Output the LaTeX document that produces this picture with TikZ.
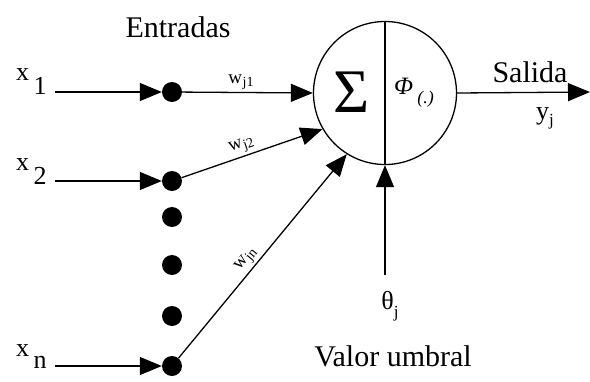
\documentclass[tikz,border=0pt]{standalone}
\usepackage{fontspec}
\setmainfont{Liberation Serif}
\newfontfamily\tms{Liberation Serif}
\usetikzlibrary{arrows.meta}
\begin{document}
\begin{tikzpicture}[x=1pt,y=-1pt,
  every node/.style={font=\tms},
  wire/.style={line width=1.3pt},
  tipped/.style={-{Triangle[length=22pt,width=18pt]}},
  dot/.style={circle,fill=black,inner sep=0pt,minimum size=20pt},
  lbl/.style={inner sep=0pt,font=\tms\fontsize{30}{32}\selectfont},
  xlbl/.style={inner sep=0pt,font=\tms\fontsize{26}{28}\selectfont},
  wlbl/.style={inner sep=2pt,font=\tms\fontsize{19}{20}\selectfont}]
\useasboundingbox (0,0) rectangle (590,381);
\node[lbl] (ent) at (178,27) {Entradas};
% input dots
\node[dot] (d1) at (172,92) {};
\node[dot] (d2) at (172,181) {};
\node[dot] (e1) at (172,217) {};
\node[dot] (e2) at (172,265) {};
\node[dot] (e3) at (172,316) {};
\node[dot] (dn) at (172,366) {};
% input labels
\node[xlbl,anchor=south west] (x1) at (16,95) {x\raisebox{-14pt}{\,1}};
\node[xlbl,anchor=south west] (x2) at (16,185) {x\raisebox{-14pt}{\,2}};
\node[xlbl,anchor=south west] (xn) at (16,369) {x\raisebox{-12pt}{\,n}};
\coordinate (s1) at (55,92);
\coordinate (s2) at (55,181);
\coordinate (sn) at (55,366);
\draw[wire,tipped] (s1) -- (d1.west);
\draw[wire,tipped] (s2) -- (d2.west);
\draw[wire,tipped] (sn) -- (dn.west);
% neuron
\node[draw,circle,line width=1.3pt,minimum size=143pt,inner sep=0pt] (neu) at (385,93) {};
\draw[line width=2pt] (neu.north) -- (neu.south);
\node[inner sep=0pt,font=\tms\fontsize{62}{62}\selectfont] (sig) at (352,92) {Σ};
\node[inner sep=0pt,font=\tms\fontsize{25}{25}\selectfont] (phi) at (414,93) {\textit{Φ}\raisebox{-9pt}{\,\fontsize{18}{18}\selectfont\textit{(.)}}};
% weighted connections
\draw[wire,tipped] (d1) -- (neu.west) node[wlbl,pos=0.45,above] {w\raisebox{-3pt}{\kern0.5pt\fontsize{14}{14}\selectfont j1}};
\draw[wire,tipped] (d2) -- (neu.210) node[wlbl,pos=0.45,above,sloped] {w\raisebox{-3pt}{\kern0.5pt\fontsize{14}{14}\selectfont j2}};
\draw[wire,tipped] (dn) -- (neu.238) node[wlbl,pos=0.45,above,sloped] {w\raisebox{-3pt}{\kern0.5pt\fontsize{14}{14}\selectfont jn}};
% output
\coordinate (out) at (590,92);
\draw[wire,tipped] (neu.east) -- (out);
\node[lbl] (sal) at (530,72) {Salida};
\node[xlbl] (yj) at (545,118) {y\raisebox{-6pt}{\fontsize{17}{17}\selectfont j}};
% threshold
\coordinate (th) at (385,275);
\draw[wire,tipped] (th) -- (neu.south);
\node[xlbl] (theta) at (390,306) {θ\raisebox{-8pt}{\fontsize{17}{17}\selectfont j}};
\node[lbl] (umb) at (393,356) {Valor umbral};
\end{tikzpicture}
\end{document}
